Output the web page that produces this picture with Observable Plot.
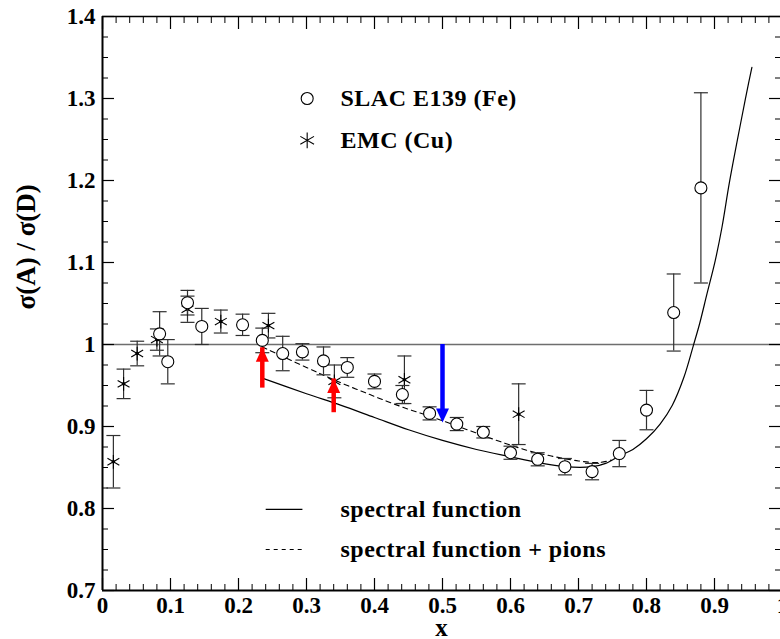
<!DOCTYPE html>
<html>
<head>
<meta charset="utf-8">
<script src="https://cdn.jsdelivr.net/npm/d3@7"></script>
<script src="https://cdn.jsdelivr.net/npm/@observablehq/plot@0.6"></script>
<style>
  html, body { margin: 0; padding: 0; background: #ffffff; }
  #chart { width: 780px; height: 639px; }
  #chart svg text { font-family: 'Liberation Serif', 'Times New Roman', Times, serif !important; font-weight: bold !important; }
</style>
</head>
<body>
<div id="chart"></div>
<script>
// ---------------- data ----------------
// SLAC E139 (Fe)
const slacX   = [0.084, 0.096, 0.125, 0.146, 0.206, 0.235, 0.265, 0.294, 0.325, 0.360, 0.400, 0.441, 0.481, 0.521, 0.560, 0.600, 0.640, 0.680, 0.720, 0.760, 0.800, 0.840, 0.880];
const slacY   = [1.013, 0.979, 1.051, 1.022, 1.024, 1.005, 0.989, 0.991, 0.980, 0.972, 0.955, 0.939, 0.916, 0.903, 0.893, 0.868, 0.860, 0.851, 0.845, 0.867, 0.920, 1.039, 1.191];
const slacErr = [0.027, 0.027, 0.015, 0.022, 0.013, 0.015, 0.021, 0.010, 0.017, 0.012, 0.009, 0.011, 0.008, 0.008, 0.007, 0.008, 0.008, 0.010, 0.010, 0.016, 0.024, 0.047, 0.116];

// EMC (Cu)
const emcX   = [0.016, 0.031, 0.051, 0.080, 0.125, 0.174, 0.244, 0.341, 0.444, 0.612];
const emcY   = [0.857, 0.952, 0.989, 1.006, 1.043, 1.028, 1.023, 0.955, 0.957, 0.915];
const emcErr = [0.032, 0.018, 0.015, 0.013, 0.016, 0.014, 0.015, 0.020, 0.029, 0.037];

// spectral function (solid)
const sfX = [0.235, 0.300, 0.350, 0.400, 0.450, 0.500, 0.550, 0.600, 0.640, 0.680, 0.720, 0.740, 0.760, 0.780, 0.800, 0.820, 0.838, 0.855, 0.869, 0.878, 0.889, 0.901, 0.911, 0.922, 0.938, 0.947, 0.955];
const sfY = [0.959, 0.940, 0.926, 0.911, 0.896, 0.883, 0.872, 0.863, 0.856, 0.851, 0.851, 0.855, 0.864, 0.872, 0.885, 0.903, 0.926, 0.960, 0.999, 1.025, 1.062, 1.102, 1.143, 1.198, 1.268, 1.306, 1.338];

// spectral function + pions (dashed)
const sfpX = [0.235, 0.300, 0.340, 0.390, 0.440, 0.490, 0.540, 0.580, 0.620, 0.660, 0.700, 0.730, 0.748];
const sfpY = [0.997, 0.972, 0.957, 0.940, 0.924, 0.910, 0.895, 0.883, 0.872, 0.864, 0.858, 0.856, 0.859];

// arrows: x, start value, end value
const arrowX    = [0.235, 0.340, 0.500];
const arrowFrom = [0.959, 0.929, 1.000];
const arrowTo   = [0.996, 0.958, 0.905];
const arrowColor = ["#ff0000", "#ff0000", "#0000ff"];

// axis ticks
const xTicks = [0, 0.1, 0.2, 0.3, 0.4, 0.5, 0.6, 0.7, 0.8, 0.9, 1];
const xTickLabels = ["0", "0.1", "0.2", "0.3", "0.4", "0.5", "0.6", "0.7", "0.8", "0.9", "1"];
const yTicks = [0.7, 0.8, 0.9, 1.0, 1.1, 1.2, 1.3, 1.4];
const yTickLabels = ["0.7", "0.8", "0.9", "1", "1.1", "1.2", "1.3", "1.4"];
const xMinorTicks = d3.range(0, 51).map(i => i / 50).filter(v => Math.abs(v * 10 - Math.round(v * 10)) > 1e-6);
const yMinorTicks = d3.range(0, 29).map(i => 0.7 + i * 0.025).filter(v => Math.abs(v * 10 - Math.round(v * 10)) > 1e-6);

// legend entries
const legendSeries = ["SLAC E139 (Fe)", "EMC (Cu)"];
const legendCurves = ["spectral function", "spectral function + pions"];

// ---------------- layout ----------------
const W = 780, H = 639;
const FONT = "'Liberation Serif', 'Times New Roman', Times, serif";
const legendLayout = {
  symX: 0.301, textX: 0.350, symY: [1.300, 1.249],
  lineX1: 0.240, lineX2: 0.294, lineY: [0.799, 0.750]
};

const slac = slacX.map((x, i) => ({x, y: slacY[i], lo: slacY[i] - slacErr[i], hi: slacY[i] + slacErr[i]}));
const emc = emcX.map((x, i) => ({x, y: emcY[i], lo: emcY[i] - emcErr[i], hi: emcY[i] + emcErr[i]}));
const sf = sfX.map((x, i) => ({x, y: sfY[i]}));
const sfp = sfpX.map((x, i) => ({x, y: sfpY[i]}));
const arrows = arrowX.map((x, i) => ({x, from: arrowFrom[i], to: arrowTo[i], color: arrowColor[i], up: arrowTo[i] > arrowFrom[i]}));

const capSymbol = {draw(ctx) { ctx.moveTo(-7, 0); ctx.lineTo(7, 0); }};
const headSymbol = {draw(ctx) { ctx.moveTo(0, 0); ctx.lineTo(-6.5, 14); ctx.lineTo(6.5, 14); ctx.closePath(); }};

const fmt = (ticks, labels) => d => { const i = ticks.findIndex(t => Math.abs(t - d) < 1e-9); return i >= 0 ? labels[i] : ""; };

const errStroke = "#303030";

const chart = Plot.plot({
  width: W,
  height: H,
  marginLeft: 102,
  marginRight: 0,
  marginTop: 16,
  marginBottom: 49,
  style: {fontFamily: FONT, fontWeight: "bold", background: "#ffffff", color: "#000"},
  x: {domain: [0, 1], range: [102, 782]},
  y: {domain: [0.7, 1.4], range: [590, 16]},
  marks: [
    // reference line at 1
    Plot.ruleY([1], {stroke: "#6e6e6e", strokeWidth: 1.6}),

    // minor & major ticks (inward) on all four sides
    Plot.axisX(xMinorTicks, {anchor: "bottom", tickSize: -6, fill: "none", label: null, strokeWidth: 1}),
    Plot.axisX(xTicks, {anchor: "bottom", tickSize: -12, fill: "none", label: null, strokeWidth: 1.2}),
    Plot.axisX(xMinorTicks, {anchor: "top", tickSize: -6, fill: "none", label: null, strokeWidth: 1}),
    Plot.axisX(xTicks, {anchor: "top", tickSize: -12, fill: "none", label: null, strokeWidth: 1.2}),
    Plot.axisY(yMinorTicks, {anchor: "left", tickSize: -6, fill: "none", label: null, strokeWidth: 1}),
    Plot.axisY(yTicks, {anchor: "left", tickSize: -12, fill: "none", label: null, strokeWidth: 1.2}),
    Plot.axisY(yMinorTicks, {anchor: "right", tickSize: -6, fill: "none", label: null, strokeWidth: 1}),
    Plot.axisY(yTicks, {anchor: "right", tickSize: -12, fill: "none", label: null, strokeWidth: 1.2}),

    // tick labels
    Plot.axisX(xTicks, {anchor: "bottom", tickSize: 0, tickPadding: 6, tickFormat: fmt(xTicks, xTickLabels), label: null, fontSize: 23, fill: "#000"}),
    Plot.axisY(yTicks, {anchor: "left", tickSize: 0, tickPadding: 7, tickFormat: fmt(yTicks, yTickLabels), label: null, fontSize: 23, fill: "#000"}),

    // frame
    Plot.ruleX([0], {stroke: "#000", strokeWidth: 2}),
    Plot.ruleX([1], {stroke: "#000", strokeWidth: 2}),
    Plot.ruleY([0.7], {stroke: "#000", strokeWidth: 2}),
    Plot.ruleY([1.4], {stroke: "#000", strokeWidth: 1.5}),

    // theory curves
    Plot.line(sf, {x: "x", y: "y", stroke: "#000", strokeWidth: 1.2, curve: "catmull-rom"}),
    Plot.line(sfp, {x: "x", y: "y", stroke: "#000", strokeWidth: 1.1, strokeDasharray: "5,4", curve: "catmull-rom"}),

    // EMC error bars + asterisks
    Plot.ruleX(emc, {x: "x", y1: "lo", y2: "hi", stroke: errStroke, strokeWidth: 1.2}),
    Plot.dot(emc, {x: "x", y: "hi", symbol: capSymbol, stroke: errStroke, fill: "none", strokeWidth: 1.2}),
    Plot.dot(emc, {x: "x", y: "lo", symbol: capSymbol, stroke: errStroke, fill: "none", strokeWidth: 1.2}),
    Plot.dot(emc, {x: "x", y: "y", symbol: "asterisk", r: 6.5, stroke: "#000", strokeWidth: 1.1}),
    Plot.dot(emc, {x: "x", y: "y", r: 1.8, fill: "#000", stroke: "none"}),

    // SLAC error bars + circles
    Plot.ruleX(slac, {x: "x", y1: "lo", y2: "hi", stroke: errStroke, strokeWidth: 1.2}),
    Plot.dot(slac, {x: "x", y: "hi", symbol: capSymbol, stroke: errStroke, fill: "none", strokeWidth: 1.2}),
    Plot.dot(slac, {x: "x", y: "lo", symbol: capSymbol, stroke: errStroke, fill: "none", strokeWidth: 1.2}),
    Plot.dot(slac, {x: "x", y: "y", r: 6, fill: "#fff", stroke: "#000", strokeWidth: 1.1}),

    // arrows
    Plot.ruleX(arrows.filter(d => d.up), {x: "x", y1: "from", y2: "to", stroke: "color", strokeWidth: 4.5, insetTop: 10}),
    Plot.ruleX(arrows.filter(d => !d.up), {x: "x", y1: "from", y2: "to", stroke: "color", strokeWidth: 4.5, insetBottom: 10}),
    Plot.dot(arrows, {x: "x", y: "to", symbol: headSymbol, fill: "color", stroke: "none", rotate: d => d.up ? 0 : 180}),

    // legend: data series
    Plot.dot([legendSeries[0]], {x: () => legendLayout.symX, y: () => legendLayout.symY[0], r: 6, fill: "#fff", stroke: "#000", strokeWidth: 1.1}),
    Plot.dot([legendSeries[1]], {x: () => legendLayout.symX, y: () => legendLayout.symY[1], symbol: "asterisk", r: 7.5, stroke: "#000", strokeWidth: 1.1}),
    Plot.text(legendSeries, {x: () => legendLayout.textX, y: (d, i) => legendLayout.symY[i], text: d => d, textAnchor: "start", fontSize: 24, fill: "#000"}),

    // legend: curves
    Plot.link([legendCurves[0]], {x1: () => legendLayout.lineX1, x2: () => legendLayout.lineX2, y1: () => legendLayout.lineY[0], y2: () => legendLayout.lineY[0], stroke: "#000", strokeWidth: 1.2}),
    Plot.link([legendCurves[1]], {x1: () => legendLayout.lineX1, x2: () => legendLayout.lineX2, y1: () => legendLayout.lineY[1], y2: () => legendLayout.lineY[1], stroke: "#000", strokeWidth: 1.1, strokeDasharray: "4,4"}),
    Plot.text(legendCurves, {x: () => legendLayout.textX, y: (d, i) => legendLayout.lineY[i], text: d => d, textAnchor: "start", fontSize: 24, fill: "#000"}),

    // axis titles
    Plot.text(["x"], {frameAnchor: "bottom", dy: 45, text: d => d, fontSize: 25, fill: "#000"}),
    Plot.text(["σ(A) / σ(D)"], {frameAnchor: "left", dx: -76, dy: 6, rotate: -90, text: d => d, fontSize: 27, fill: "#000"})
  ]
});

// the reference typesetting is slightly wider than the font: add a little tracking to the legend texts
d3.select(chart).selectAll("text")
  .filter(function() { return legendSeries.includes(this.textContent) || legendCurves.includes(this.textContent); })
  .style("letter-spacing", "0.5px");

document.getElementById("chart").appendChild(chart);
</script>
</body>
</html>
